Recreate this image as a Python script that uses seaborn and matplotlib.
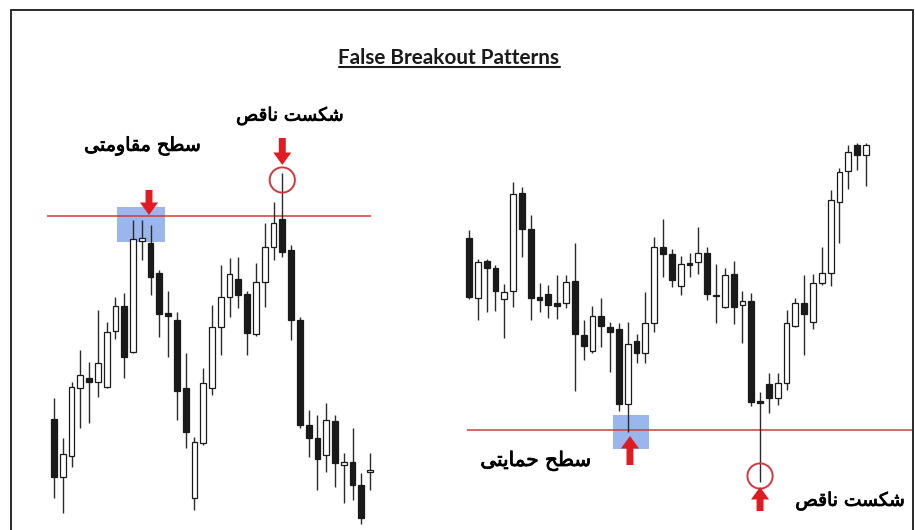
import matplotlib
matplotlib.use("Agg")
import matplotlib.pyplot as plt
from matplotlib.lines import Line2D
from matplotlib.patches import Rectangle
from matplotlib import font_manager, ft2font
import matplotlib.patheffects as pe
import numpy as np
import pandas as pd
import seaborn as sns

# ---------------- data ----------------
# Left chart: false breakout above resistance
left_open  = [181,123,144,212,222,218,213,269,294,248,359,357,327,287,280,212,102,157,212,273,303,321,306,266,318,353,381,350,280,175,162,145,179,135,138,115,128]
left_high  = [202,162,218,250,238,290,278,303,307,380,380,375,330,309,288,247,163,232,295,335,342,343,309,337,377,398,427,355,283,190,185,197,185,147,172,127,147]
left_low   = [102, 87,133,172,177,203,212,261,222,247,340,305,263,243,180,152, 90,155,205,245,283,292,245,264,293,340,343,260,172,143,110,128,113, 97,100, 76,110]
left_close = [123,146,213,225,218,237,268,294,243,361,362,323,286,284,209,168,158,217,273,303,326,305,267,318,353,377,348,280,175,162,141,180,137,138,115, 82,130]
left_level = 384
left_breakout_idx = 26

# Right chart: false breakout below support
right_open  = [362,302,339,332,301,309,407,371,303,306,297,297,319,265,249,284,273,271,196,259,247,277,353,346,314,337,338,347,305,293,326,295,299,199,216,202,217,274,297,278,317,327,398,429,455,445]
right_high  = [370,341,341,335,316,418,413,385,317,315,325,325,357,280,294,302,278,277,278,266,308,363,381,351,344,347,373,353,336,332,339,309,307,208,227,227,290,302,325,326,353,410,432,455,457,457]
right_low   = [301,280,288,289,262,293,343,280,288,282,281,292,209,240,247,253,228,189,168,237,237,268,323,313,305,323,326,300,277,292,276,257,194,118,187,195,210,273,245,271,315,314,357,411,430,414]
right_close = [303,338,332,309,308,406,371,302,300,295,294,318,266,254,284,274,268,196,256,247,277,353,346,320,336,335,347,306,304,325,293,299,198,197,202,217,277,297,286,317,327,400,428,448,445,455]
right_level = 170
right_breakout_idx = 33

title_text = "False Breakout Patterns"
label_false_breakout = "شکست ناقص"
label_resistance = "سطح مقاومتی"
label_support = "سطح حمایتی"

# ---------------- Persian shaping (matplotlib has no Arabic shaping) ----------------
FORMS = {
    'ا': ('\uFE8D', '\uFE8E', None, None),
    'ت': ('\uFE95', '\uFE96', '\uFE97', '\uFE98'),
    'ح': ('\uFEA1', '\uFEA2', '\uFEA3', '\uFEA4'),
    'س': ('\uFEB1', '\uFEB2', '\uFEB3', '\uFEB4'),
    'ش': ('\uFEB5', '\uFEB6', '\uFEB7', '\uFEB8'),
    'ص': ('\uFEB9', '\uFEBA', '\uFEBB', '\uFEBC'),
    'ط': ('\uFEC1', '\uFEC2', '\uFEC3', '\uFEC4'),
    'ق': ('\uFED5', '\uFED6', '\uFED7', '\uFED8'),
    'م': ('\uFEE1', '\uFEE2', '\uFEE3', '\uFEE4'),
    'ن': ('\uFEE5', '\uFEE6', '\uFEE7', '\uFEE8'),
    'و': ('\uFEED', '\uFEEE', None, None),
    'ک': ('\uFB8E', '\uFB8F', '\uFB90', '\uFB91'),
    'ی': ('\uFBFC', '\uFBFD', '\uFBFE', '\uFBFF'),
}
FALLBACK = {
    'ک': ('\uFED9', '\uFEDA', '\uFEDB', '\uFEDC'),
    'ی': ('\uFEEF', '\uFEF0', '\uFEF3', '\uFEF4'),
}
_path = font_manager.findfont(font_manager.FontProperties(family="DejaVu Sans"))
cmap = ft2font.FT2Font(_path).get_charmap()
for k, forms in FALLBACK.items():
    if not all(ord(g) in cmap for g in FORMS[k]):
        FORMS[k] = forms


def shape_fa(text):
    out = []
    for i, ch in enumerate(text):
        if ch not in FORMS:
            out.append(ch)
            continue
        iso, fin, ini, med = FORMS[ch]
        prev = text[i - 1] if i > 0 else None
        nxt = text[i + 1] if i + 1 < len(text) else None
        jp = prev in FORMS and FORMS[prev][2] is not None
        jn = nxt in FORMS and ini is not None
        g = med if (jp and jn) else fin if jp else ini if jn else iso
        out.append(g)
    return ''.join(reversed(out))


# ---------------- figure ----------------
sns.set_theme(style="white")
plt.rcParams['font.family'] = ['DejaVu Sans']

W, H = 915, 530
fig = plt.figure(figsize=(W / 100, H / 100), dpi=100)
fig.patch.set_facecolor("white")

RED = "#e01b22"
LINE_RED = "#d23a3a"
BLUE = "#9ab6ec"
INK = "#1a1a1a"


def make_axes(x0px, x1px, first_px, step_px):
    ax = fig.add_axes([x0px / W, 0, (x1px - x0px) / W, 1])
    ax.set_xlim((x0px - first_px) / step_px, (x1px - first_px) / step_px)
    ax.set_ylim(600 - H, 600)
    ax.set_axis_off()
    ax.patch.set_alpha(0)
    return ax


def candles(ax, o, h, l, c):
    df = pd.DataFrame({"open": o, "high": h, "low": l, "close": c})
    df["x"] = np.arange(len(df))
    df["bull"] = df["close"] >= df["open"]
    df["bottom"] = df[["open", "close"]].min(axis=1)
    df["body"] = (df["close"] - df["open"]).abs().clip(lower=1.5)
    ax.vlines(df["x"], df["low"], df["high"], color="#2a2a2a", lw=1.0, zorder=3)
    ax.bar(df["x"], df["body"], bottom=df["bottom"], width=0.66,
           color=np.where(df["bull"], "white", INK), edgecolor=INK,
           linewidth=0.9, zorder=4)
    return df


def arrow(ax, x, y_tail, y_tip):
    ax.annotate("", xy=(x, y_tip), xytext=(x, y_tail),
                arrowprops=dict(arrowstyle="simple,head_length=9,head_width=13,tail_width=5",
                                mutation_scale=1, color=RED, shrinkA=0, shrinkB=0, lw=0),
                zorder=6)


def fa_text(ax, x, y, s):
    return ax.text(x, y, shape_fa(s), ha="center", va="center", fontsize=15,
                   color="black", family=["DejaVu Sans"],
                   path_effects=[pe.withStroke(linewidth=0.6, foreground="black")])


texts = []

# ----- left chart -----
axL = make_axes(40, 380, 54, 8.78)
dfL = candles(axL, left_open, left_high, left_low, left_close)
axL.add_patch(Rectangle((7.18, left_level - 26), 5.46, 35, color=BLUE, lw=0, zorder=1))
axL.hlines(left_level, -0.8, 36.1, color=LINE_RED, lw=1.1, zorder=2)
bxL = left_breakout_idx
arrow(axL, 10.82, left_level + 26, left_level + 1)
axL.scatter([bxL], [left_high[bxL] - 7], s=330, marker="o", facecolor="none",
            edgecolor="#d8353c", linewidth=1.4, zorder=6)
arrow(axL, bxL, left_high[bxL] + 35, left_high[bxL] + 8)
texts.append((fa_text(axL, 26.9, 484, label_false_breakout), 108))
texts.append((fa_text(axL, 10.1, 454, label_resistance), 117))

# ----- right chart -----
axR = make_axes(455, 915, 469, 8.82)
dfR = candles(axR, right_open, right_high, right_low, right_close)
axR.add_patch(Rectangle((16.33, right_level - 19), 4.08, 34, color=BLUE, lw=0, zorder=1))
axR.hlines(right_level, -0.23, 50.34, color=LINE_RED, lw=1.1, zorder=2)
bxR = right_breakout_idx
arrow(axR, 18.25, right_level - 35, right_level - 6)
axR.scatter([bxR], [right_low[bxR] + 6], s=330, marker="o", facecolor="none",
            edgecolor="#d8353c", linewidth=1.4, zorder=6)
arrow(axR, bxR, right_low[bxR] - 29, right_low[bxR] - 5)
texts.append((fa_text(axR, 7.6, 139, label_support), 111))
texts.append((fa_text(axR, 43.2, 99, label_false_breakout), 110))

# ----- title -----
title = fig.text(449 / W, 1 - 64 / H, title_text, ha="center", va="baseline",
                 fontsize=14, fontweight="bold", color="#1a1a1a", family=["Lato", "DejaVu Sans"])
texts.append((title, 224))

# fit text widths
fig.canvas.draw()
r = fig.canvas.get_renderer()
for t, target in texts:
    bb = t.get_window_extent(r)
    t.set_fontsize(t.get_fontsize() * target / bb.width)
fig.canvas.draw()
bb = title.get_window_extent(r)
fig.add_artist(Line2D([bb.x0 / W, bb.x1 / W], [1 - 67 / H, 1 - 67 / H],
                      transform=fig.transFigure, color="#1a1a1a", lw=1.5))

# frame
fr = dict(transform=fig.transFigure, color="#2b2b2b", lw=1.4)
fig.add_artist(Line2D([10.5 / W, 10.5 / W], [0, 1 - 10 / H], **fr))
fig.add_artist(Line2D([10.5 / W, 913 / W], [1 - 10 / H, 1 - 10 / H], **fr))
fig.add_artist(Line2D([913 / W, 913 / W], [0, 1 - 10 / H], **fr))

fig.savefig("out.png", dpi=100, facecolor="white")
